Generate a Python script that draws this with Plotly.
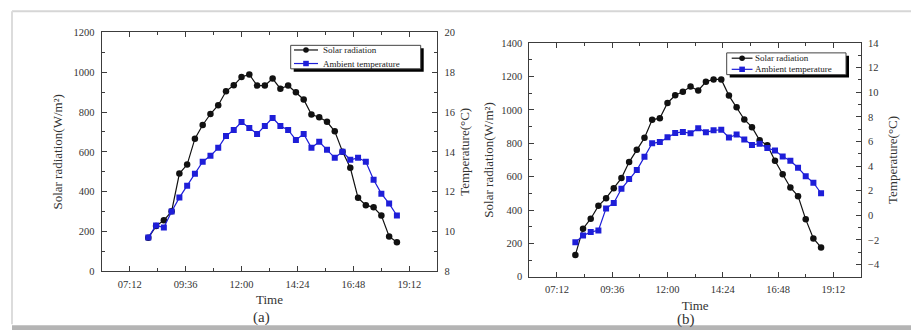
import plotly.graph_objects as go

# ---------------- data ----------------
times = ["08:00", "08:20", "08:40", "09:00", "09:20", "09:40", "10:00", "10:20",
         "10:40", "11:00", "11:20", "11:40", "12:00", "12:20", "12:40", "13:00",
         "13:20", "13:40", "14:00", "14:20", "14:40", "15:00", "15:20", "15:40",
         "16:00", "16:20", "16:40", "17:00", "17:20", "17:40", "18:00", "18:20",
         "18:40"]

solar_a = [168, 227, 256, 301, 491, 536, 666, 735, 790, 834, 904, 934, 976, 989,
           933, 933, 968, 917, 933, 899, 863, 787, 774, 751, 703, 601, 520, 369,
           332, 321, 280, 175, 146]
temp_a = [9.7, 10.3, 10.2, 11.0, 11.7, 12.3, 12.9, 13.5, 13.8, 14.2, 14.8, 15.1,
          15.5, 15.2, 14.9, 15.3, 15.7, 15.3, 15.1, 14.6, 14.9, 14.2, 14.5, 14.1,
          13.7, 14.0, 13.6, 13.7, 13.5, 12.6, 11.9, 11.4, 10.8]

solar_b = [131, 288, 348, 425, 471, 531, 591, 687, 761, 832, 940, 950, 1041, 1087,
           1108, 1139, 1116, 1168, 1182, 1182, 1085, 1016, 942, 896, 817, 788, 695,
           614, 535, 483, 344, 230, 176]
temp_b = [-2.2, -1.65, -1.36, -1.23, 0.56, 1.0, 2.15, 2.94, 3.67, 4.75, 5.85, 5.95,
          6.35, 6.69, 6.77, 6.66, 7.08, 6.74, 6.9, 6.95, 6.32, 6.56, 6.16, 5.72,
          5.82, 5.46, 5.27, 4.78, 4.43, 3.86, 3.18, 2.65, 1.79]

series_names = ["Solar radiation", "Ambient temperature"]
panel_labels = ["(a)", "(b)"]
x_title = "Time"
y_left_title = "Solar radiation(W/m\u00b2)"
y_right_title = "Temperature(\u00b0C)"

DAY = "2024-01-01 "
x = [DAY + t for t in times]

# ---------------- style ----------------
W, H = 911, 336
FONT = "Liberation Serif"
AXC = "#3c3c3c"
TXT = "#333333"
BLACK = "#111111"
BLUE = "#1e1ed8"
SERIES_COLORS = [BLACK, BLUE]
SERIES_SYMBOLS = ["circle", "square"]

def px(v):
    return v / W

def py(v):
    return (H - v) / H

fig = go.Figure()

def add_pair(solar, temp, xa, ya, ya2):
    fig.add_trace(go.Scatter(
        x=x, y=solar, name=series_names[0], xaxis=xa, yaxis=ya, showlegend=False,
        mode="lines+markers", line=dict(color=BLACK, width=1.2),
        marker=dict(symbol="circle", size=6.5, color=BLACK)))
    fig.add_trace(go.Scatter(
        x=x, y=temp, name=series_names[1], xaxis=xa, yaxis=ya2, showlegend=False,
        mode="lines+markers", line=dict(color=BLUE, width=1.2),
        marker=dict(symbol="square", size=6, color=BLUE)))

add_pair(solar_a, temp_a, "x", "y", "y2")
add_pair(solar_b, temp_b, "x2", "y3", "y4")

tickfont = dict(family=FONT, size=10.5, color=TXT)
titlefont = dict(family=FONT, size=13, color=TXT)

def xaxis(domain, anchor):
    return dict(
        domain=domain, anchor=anchor, type="date",
        range=[DAY + "06:00", DAY + "20:24"],
        tickmode="linear", tick0=DAY + "07:12", dtick=144 * 60000,
        tickformat="%H:%M", ticks="inside", ticklen=5, tickwidth=1, tickcolor=AXC,
        minor=dict(ticks="inside", ticklen=3, tickcolor=AXC, dtick=72 * 60000,
                   tick0=DAY + "07:12", showgrid=False),
        showline=True, linecolor=AXC, linewidth=1, mirror="ticks",
        showgrid=False, zeroline=False, tickfont=tickfont, ticklabelstandoff=3,
        title=dict(text=x_title, font=titlefont, standoff=6))

def yaxis(domain, anchor, rng, dtick, tick0, title, standoff, side="left",
          overlaying=None):
    d = dict(
        domain=domain, anchor=anchor, range=rng, tickmode="linear", tick0=tick0,
        dtick=dtick, ticks="inside", ticklen=5, tickwidth=1, tickcolor=AXC,
        minor=dict(ticks="inside", ticklen=3, tickcolor=AXC, dtick=dtick / 2,
                   tick0=tick0, showgrid=False),
        showline=True, linecolor=AXC, linewidth=1, mirror=False,
        showgrid=False, zeroline=False, tickfont=tickfont, side=side,
        ticklabelstandoff=4,
        title=dict(text=title, font=titlefont, standoff=standoff))
    if overlaying:
        d["overlaying"] = overlaying
    return d

dom_xa = [px(101.7), px(437.3)]
dom_ya = [py(275.3), py(28.3)]
dom_xb = [px(529.3), px(861)]
dom_yb = [py(281), py(39.3)]

fig.update_layout(
    width=W, height=H, margin=dict(l=0, r=0, t=0, b=0),
    paper_bgcolor="white", plot_bgcolor="white", showlegend=False,
    xaxis=xaxis(dom_xa, "y"),
    yaxis=yaxis(dom_ya, "x", [0, 1200], 200, 0, y_left_title, 8),
    yaxis2=yaxis(dom_ya, "x", [8, 20], 2, 8, y_right_title, 5, side="right",
                 overlaying="y"),
    xaxis2=xaxis(dom_xb, "y3"),
    yaxis3=yaxis(dom_yb, "x2", [0, 1400], 200, 0, y_left_title, 4),
    yaxis4=yaxis(dom_yb, "x2", [-5, 14], 2, 0, y_right_title, 8, side="right",
                 overlaying="y3"),
)

ann = []
shapes = []

def text(xc, yc, s, size=13, xanchor="center", color=TXT):
    ann.append(dict(x=px(xc), y=py(yc), xref="paper", yref="paper", text=s,
                    showarrow=False, xanchor=xanchor, yanchor="middle",
                    font=dict(family=FONT, size=size, color=color)))

# panel labels
text(261, 323.5, panel_labels[0], size=15)
text(686, 325, panel_labels[1], size=15)

# legend boxes (box with heavy drop shadow, as in the original)
def legend_box(x0, y0, x1, y1, rows, line_x0, line_x1, text_x, fsize):
    shapes.append(dict(type="rect", xref="paper", yref="paper",
                       x0=px(x0 + 3), x1=px(x1 + 3), y0=py(y0 + 3), y1=py(y1 + 3),
                       fillcolor="#000000", line=dict(width=0), layer="above"))
    shapes.append(dict(type="rect", xref="paper", yref="paper",
                       x0=px(x0), x1=px(x1), y0=py(y0), y1=py(y1),
                       fillcolor="white", line=dict(color="#444", width=1),
                       layer="above"))
    mx = (line_x0 + line_x1) / 2
    for i, yy in enumerate(rows):
        c = SERIES_COLORS[i]
        shapes.append(dict(type="line", xref="paper", yref="paper",
                           x0=px(line_x0), x1=px(line_x1), y0=py(yy), y1=py(yy),
                           line=dict(color=c, width=1.2), layer="above"))
        r = 2.8
        shapes.append(dict(type="circle" if SERIES_SYMBOLS[i] == "circle" else "rect",
                           xref="paper", yref="paper",
                           x0=px(mx - r), x1=px(mx + r), y0=py(yy + r), y1=py(yy - r),
                           fillcolor=c, line=dict(width=0), layer="above"))
        text(text_x, yy, series_names[i], size=fsize, xanchor="left", color="#222")

legend_box(290.7, 41.7, 420.7, 66, [46.5, 60.5], 294, 318, 320.5, 9)
legend_box(726.7, 49.5, 846, 72, [55, 66.5], 731.7, 752.5, 753, 9)

# outer page frame decoration
shapes += [
    dict(type="line", xref="paper", yref="paper", x0=px(12), x1=px(911),
         y0=py(6.5), y1=py(6.5), line=dict(color="#d6d6d6", width=2)),
    dict(type="line", xref="paper", yref="paper", x0=px(12), x1=px(12),
         y0=py(6.5), y1=py(330), line=dict(color="#dcdcdc", width=2)),
    dict(type="rect", xref="paper", yref="paper", x0=px(12), x1=px(911),
         y0=py(336), y1=py(331), fillcolor="#b4b4b4", line=dict(width=0),
         layer="above"),
]

fig.update_layout(annotations=ann, shapes=shapes)

fig.write_html("out.html")
